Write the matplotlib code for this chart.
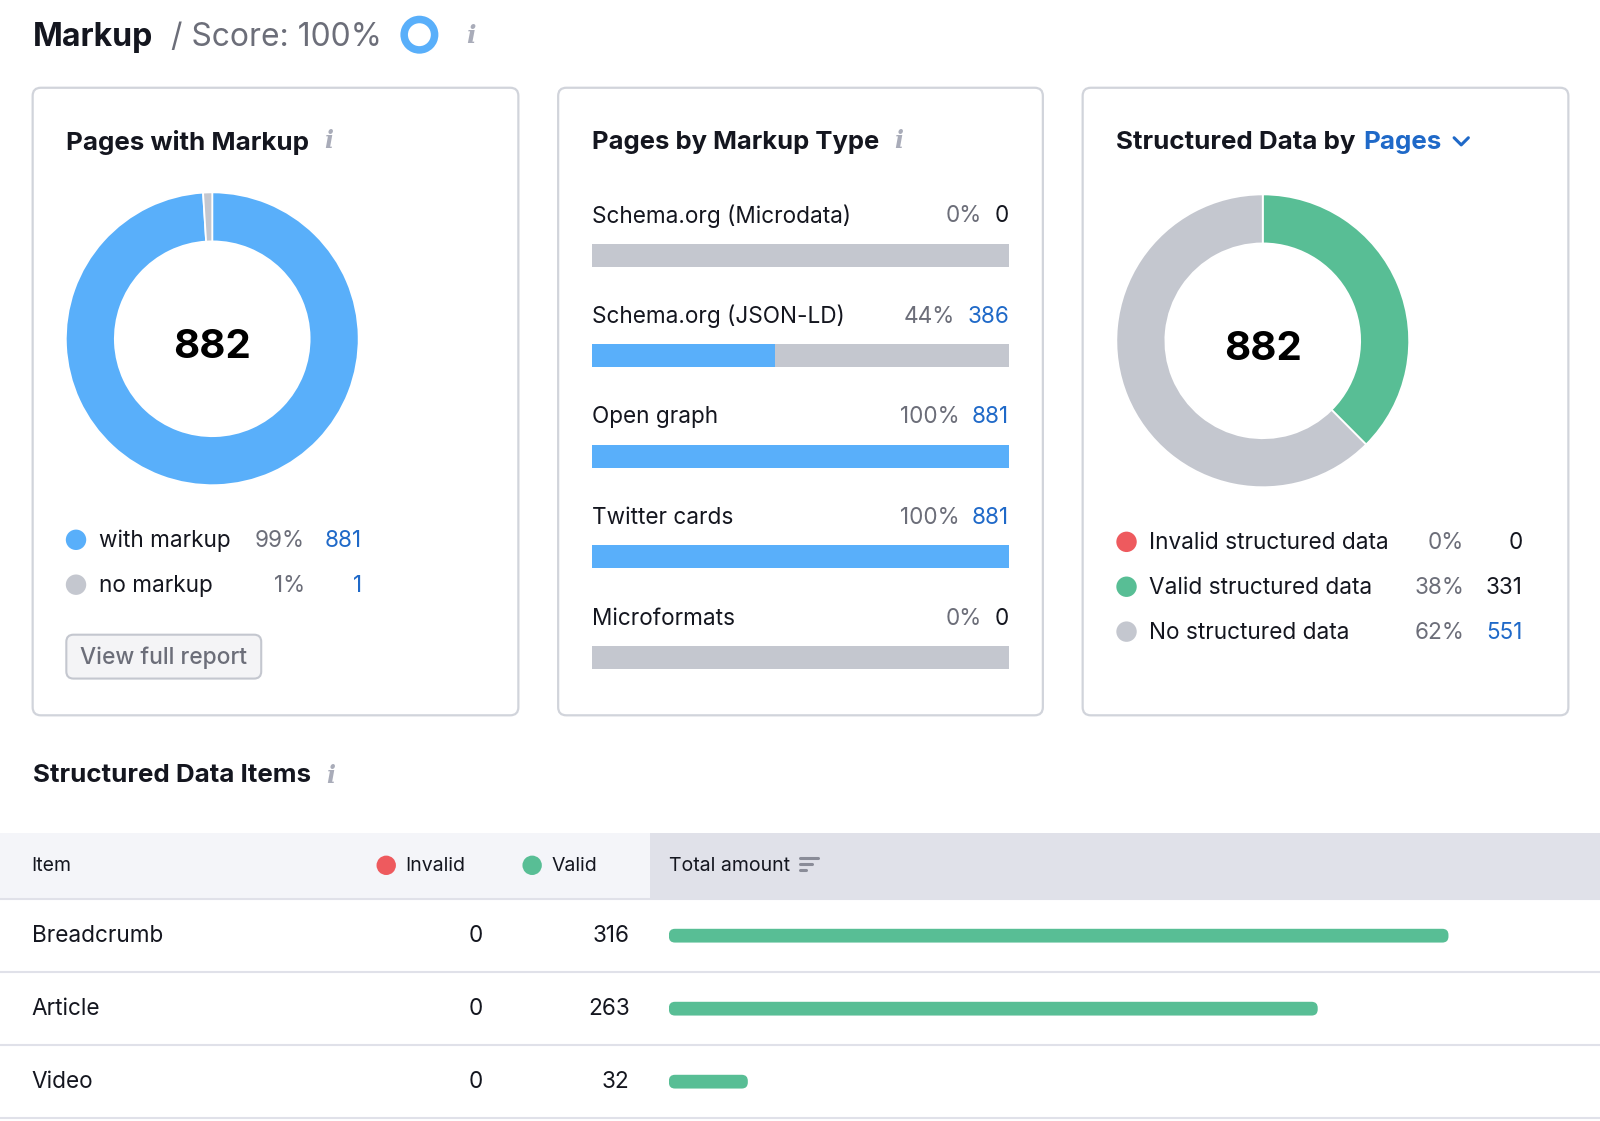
import matplotlib
matplotlib.use("Agg")
import matplotlib.pyplot as plt
from matplotlib.patches import FancyBboxPatch, Circle, Rectangle

plt.rcParams['font.family'] = ['Inter', 'DejaVu Sans']

# ---------- data ----------
score_value = [100]
score_label = "/ Score: 100%"

pages_labels = ["with markup", "no markup"]
pages_pct = [99, 1]
pages_counts = [881, 1]
pages_total = 882

type_labels = ["Schema.org (Microdata)", "Schema.org (JSON-LD)", "Open graph", "Twitter cards", "Microformats"]
type_pct = [0, 44, 100, 100, 0]
type_counts = [0, 386, 881, 881, 0]

sd_labels = ["Invalid structured data", "Valid structured data", "No structured data"]
sd_pct = [0, 38, 62]
sd_counts = [0, 331, 551]
sd_total = 882

items = ["Breadcrumb", "Article", "Video"]
items_invalid = [0, 0, 0]
items_valid = [316, 263, 32]

# ---------- styles ----------
BLUE, GRAY, GREEN, RED = "#59AFFA", "#C4C7CF", "#58BE95", "#EE5A5E"
LINK, DARK, MUTED = "#1F69C8", "#14161F", "#6C6E79"
BORDER, ICON = "#D1D4DB", "#A9ACB9"
BODY, TITLE, HEAD = 16.25, 18.7, 14
W, H = 1600, 1121
S = W / 1568  # layout below is measured on a 1568-wide view

fig = plt.figure(figsize=(W / 100, H / 100), dpi=100, facecolor="white")
bg = fig.add_axes([0, 0, 1, 1])
bg.set_xlim(0, W / S)
bg.set_ylim(H / S, 0)
bg.axis("off")
renderer = fig.canvas.get_renderer()


def axes_px(x0, y0, x1, y1, **kw):
    return fig.add_axes([x0 * S / W, 1 - y1 * S / H, (x1 - x0) * S / W, (y1 - y0) * S / H], **kw)


def t(x, y, s, size=BODY, color=DARK, ha="left", weight="normal", **kw):
    return bg.text(x, y + 1.8, s, fontsize=size, color=color, ha=ha, va="center", fontweight=weight, **kw)


def info(x, y, size=18):
    bg.text(x, y, "i", fontsize=size, color=ICON, ha="center", va="center", family="DejaVu Serif",
            style="italic", fontweight="bold")


def card(x0, x1):
    bg.add_patch(FancyBboxPatch((x0, 86), x1 - x0, 615, boxstyle="round,pad=0,rounding_size=8",
                                fc="white", ec=BORDER, lw=1.6))


def donut(cx, cy, r, values, colors, width):
    ax = axes_px(cx - r, cy - r, cx + r, cy + r)
    ax.pie(values, colors=colors, startangle=90, counterclock=False, radius=1.0,
           wedgeprops=dict(width=width, edgecolor="white", linewidth=1.3))
    ax.set_xlim(-1, 1)
    ax.set_ylim(-1, 1)
    ax.axis("off")
    return ax


# ---------- page header ----------
t(32, 34.5, "Markup", 23.1, weight="bold")
t(168, 34.5, score_label, 22.9, MUTED)
donut(411, 34, 19.5, score_value, [BLUE], 0.47)
info(461.5, 35, 18)

# ---------- cards ----------
card(32, 508)
card(547, 1022)
card(1061, 1537)

# card 1
t(65, 138, "Pages with Markup", TITLE, weight="bold")
info(322, 138, 17)
donut(208, 332, 143.5, [pages_pct[0], pages_pct[1]], [BLUE, GRAY], 0.335)
t(208, 339, str(pages_total), 29, "black", ha="center", weight="bold")
for i, (lab, pct, n, c) in enumerate(zip(pages_labels, pages_pct, pages_counts, [BLUE, GRAY])):
    y = 528.5 + i * 44
    bg.add_patch(Circle((74.5, y + 0.5), 10, fc=c, ec="none"))
    t(97, y, lab)
    t(299, y, f"{pct}%", color=MUTED, ha="right")
    t(355, y, str(n), color=LINK, ha="right")
bg.add_patch(FancyBboxPatch((65, 622), 191, 43, boxstyle="round,pad=0,rounding_size=7",
                            fc="#F4F4F6", ec=GRAY, lw=1.5))
t(160.5, 642.5, "View full report", 16.4, MUTED, ha="center", weight="medium")

# card 2
t(580, 138, "Pages by Markup Type", 18.45, weight="bold")
info(881, 138, 17)
row_step = 98.6
bar_ax = axes_px(580, 250 - row_step / 2, 989, 644 + row_step / 2)
rows = list(range(len(type_labels)))
bar_ax.barh(rows, [100] * len(type_pct), height=22.5 / row_step, color=GRAY)
bar_ax.barh(rows, type_pct, height=22.5 / row_step, color=BLUE)
bar_ax.set_xlim(0, 100)
bar_ax.set_ylim(len(type_labels) - 0.5, -0.5)
bar_ax.axis("off")
inv = bg.transData.inverted()
for i, (lab, pct, n) in enumerate(zip(type_labels, type_pct, type_counts)):
    y = 210 + i * row_step
    t(580, y, lab)
    num = t(989, y, str(n), color=LINK if n else DARK, ha="right")
    left_px = num.get_window_extent(renderer).x0
    left = inv.transform((left_px, 0))[0]
    t(left - 12.5, y, f"{pct}%", color=MUTED, ha="right")

# card 3
t(1094, 138, "Structured Data by ", TITLE, weight="bold")
t(1336, 138, "Pages", TITLE, LINK, weight="bold")
bg.plot([1425, 1432, 1439], [135, 142, 135], color=LINK, lw=2.2, solid_capstyle="round")
donut(1237.5, 334, 143.5, sd_counts, [RED, GREEN, GRAY], 0.335)
t(1237.5, 341, str(sd_total), 29, "black", ha="center", weight="bold")
for i, (lab, pct, n, c) in enumerate(zip(sd_labels, sd_pct, sd_counts, [RED, GREEN, GRAY])):
    y = 530.5 + i * 44
    bg.add_patch(Circle((1104, y + 0.5), 10, fc=c, ec="none"))
    t(1126, y, lab)
    t(1435, y, f"{pct}%", color=MUTED, ha="right")
    t(1492, y, str(n), color=LINK if i == 2 else DARK, ha="right")

# ---------- table ----------
t(32, 758.5, "Structured Data Items", TITLE, weight="bold")
info(324, 760, 17)
bg.add_patch(Rectangle((0, 816), 637, 65, fc="#F4F5F9", ec="none"))
bg.add_patch(Rectangle((637, 816), 1568 - 637, 65, fc="#E0E1E9", ec="none"))
bg.plot([0, 1568], [881, 881], color="#E0E1E9", lw=1.5)
t(31, 846.5, "Item", HEAD)
bg.add_patch(Circle((378.5, 848), 9.5, fc=RED, ec="none"))
t(397, 846.5, "Invalid", HEAD)
bg.add_patch(Circle((521.5, 848), 9.5, fc=GREEN, ec="none"))
t(540.5, 846.5, "Valid", HEAD)
t(656, 846.5, "Total amount", HEAD)
for k, (x0, x1) in enumerate([(784, 802), (784, 796), (784, 790)]):
    bg.plot([x0, x1], [841 + k * 6, 841 + k * 6], color="#8A8C98", lw=2.2, solid_capstyle="round")

table_step = 71.6
tab_ax = axes_px(655.5, 917 - table_step / 2, 1568, 1060 + table_step / 2)
px_per_unit = (1419.5 - 655.5) / items_valid[0]
tab_ax.set_xlim(0, (1568 - 655.5) / px_per_unit)
tab_ax.set_ylim(len(items) - 0.5, -0.5)
tab_ax.axis("off")
bar_h = 13.5 / table_step
aspect = (6 / table_step) / (6 / px_per_unit)
for i, (name, invalid, val) in enumerate(zip(items, items_invalid, items_valid)):
    tab_ax.add_patch(FancyBboxPatch((0, i - bar_h / 2), val, bar_h,
                                    boxstyle=f"round,pad=0,rounding_size={6 / px_per_unit}",
                                    mutation_aspect=aspect, fc=GREEN, ec="none"))
    y = 915.5 + i * table_step
    t(31, y, name)
    t(473, y, str(invalid), ha="right")
    t(617, y, str(val), ha="right")
    ly = 952.5 + i * table_step
    bg.plot([0, 1568], [ly, ly], color="#E0E1E9", lw=1.5)

fig.savefig("out.png", dpi=100)
